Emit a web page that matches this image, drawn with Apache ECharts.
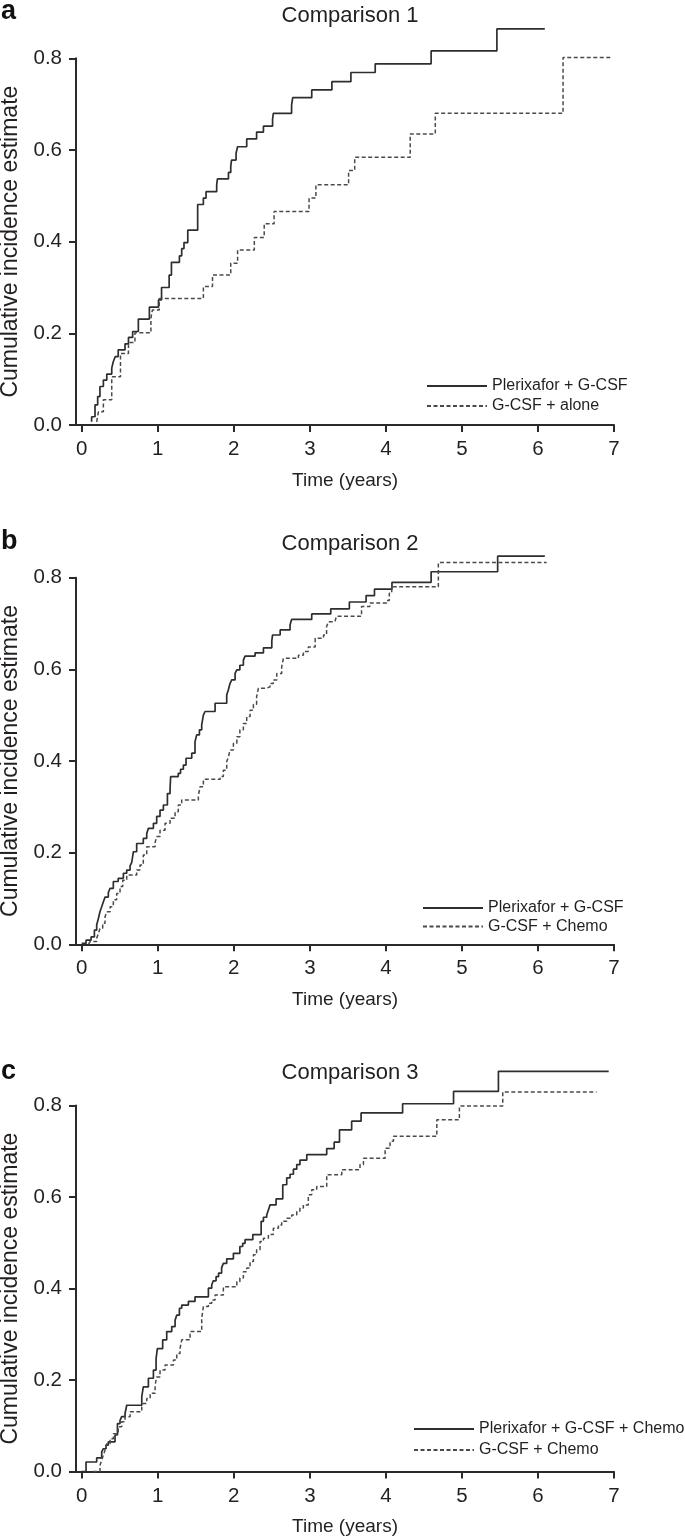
<!DOCTYPE html>
<html><head><meta charset="utf-8">
<script src="https://cdn.jsdelivr.net/npm/echarts@6/dist/echarts.min.js"></script>
<style>html,body{margin:0;padding:0;background:#fff}#c{width:685px;height:1536px}</style>
</head><body><div id="c"></div>
<script>
// ---- data ----
const xTicks = [0, 1, 2, 3, 4, 5, 6, 7];
const yTicks = [0, 0.2, 0.4, 0.6, 0.8];
const panelLetters = ['a', 'b', 'c'];
const panelTitles = ['Comparison 1', 'Comparison 2', 'Comparison 3'];
const seriesNames = [
  ['Plerixafor + G-CSF', 'G-CSF + alone'],
  ['Plerixafor + G-CSF', 'G-CSF + Chemo'],
  ['Plerixafor + G-CSF + Chemo', 'G-CSF + Chemo']
];
const xAxisName = 'Time (years)';
const yAxisName = 'Cumulative incidence estimate';

// [time (years), cumulative incidence]
const cmp1Plerixafor = [[0.13,0.007],[0.131,0.018],[0.175,0.044],[0.21,0.062],[0.24,0.084],[0.285,0.098],[0.33,0.111],[0.395,0.124],[0.415,0.138],[0.44,0.149],[0.48,0.164],[0.57,0.177],[0.615,0.191],[0.67,0.204],[0.745,0.231],[0.89,0.257],[1.01,0.273],[1.05,0.3],[1.15,0.327],[1.18,0.355],[1.285,0.369],[1.315,0.385],[1.345,0.398],[1.395,0.425],[1.525,0.481],[1.6,0.495],[1.635,0.509],[1.775,0.524],[1.785,0.537],[1.93,0.551],[1.96,0.564],[1.97,0.578],[2.03,0.593],[2.05,0.607],[2.17,0.624],[2.3,0.639],[2.39,0.652],[2.51,0.667],[2.52,0.68],[2.76,0.698],[2.775,0.714],[3.025,0.731],[3.29,0.749],[3.54,0.769],[3.86,0.788],[4.595,0.816],[5.46,0.864],[6.09,0.864]];
const cmp1GcsfAlone = [[0.197,0.007],[0.22,0.029],[0.285,0.055],[0.395,0.105],[0.51,0.156],[0.615,0.18],[0.70,0.201],[0.91,0.233],[0.93,0.251],[1.02,0.276],[1.60,0.302],[1.72,0.327],[1.96,0.353],[2.05,0.382],[2.27,0.409],[2.40,0.439],[2.53,0.466],[2.99,0.495],[3.08,0.524],[3.51,0.555],[3.59,0.584],[4.32,0.635],[4.65,0.68],[6.33,0.802],[6.96,0.802]];
const cmp2Plerixafor = [[0.0,0.002],[0.057,0.009],[0.123,0.016],[0.167,0.031],[0.197,0.042],[0.22,0.057],[0.24,0.071],[0.263,0.082],[0.285,0.093],[0.307,0.103],[0.35,0.113],[0.373,0.122],[0.416,0.137],[0.48,0.144],[0.548,0.155],[0.592,0.162],[0.636,0.171],[0.658,0.179],[0.68,0.202],[0.723,0.22],[0.81,0.231],[0.855,0.242],[0.877,0.253],[0.943,0.264],[0.986,0.279],[1.03,0.293],[1.074,0.304],[1.127,0.329],[1.162,0.34],[1.17,0.366],[1.27,0.373],[1.30,0.382],[1.337,0.391],[1.372,0.406],[1.447,0.417],[1.49,0.442],[1.512,0.457],[1.548,0.468],[1.578,0.479],[1.60,0.50],[1.622,0.508],[1.754,0.526],[1.907,0.544],[1.93,0.556],[1.95,0.569],[1.973,0.577],[2.017,0.591],[2.04,0.599],[2.08,0.609],[2.126,0.62],[2.148,0.629],[2.28,0.636],[2.39,0.647],[2.50,0.662],[2.51,0.675],[2.61,0.686],[2.74,0.697],[2.76,0.709],[3.025,0.721],[3.275,0.732],[3.52,0.747],[3.74,0.761],[3.85,0.775],[4.08,0.79],[4.595,0.813],[5.47,0.847],[6.09,0.847]];
const cmp2GcsfChemo = [[0.088,0.0],[0.11,0.006],[0.197,0.013],[0.22,0.024],[0.241,0.035],[0.276,0.046],[0.307,0.06],[0.33,0.071],[0.373,0.082],[0.416,0.097],[0.46,0.111],[0.504,0.126],[0.54,0.14],[0.592,0.151],[0.723,0.162],[0.767,0.173],[0.81,0.195],[0.855,0.213],[0.965,0.222],[0.986,0.235],[1.03,0.249],[1.096,0.264],[1.162,0.275],[1.228,0.289],[1.27,0.304],[1.315,0.315],[1.534,0.324],[1.556,0.344],[1.60,0.36],[1.82,0.366],[1.863,0.38],[1.907,0.399],[1.93,0.409],[1.95,0.424],[1.995,0.439],[2.04,0.453],[2.08,0.468],[2.126,0.482],[2.17,0.497],[2.214,0.511],[2.258,0.524],[2.30,0.54],[2.324,0.559],[2.433,0.562],[2.477,0.569],[2.52,0.577],[2.565,0.591],[2.63,0.606],[2.652,0.624],[2.85,0.631],[2.915,0.639],[2.98,0.649],[3.07,0.668],[3.18,0.675],[3.22,0.693],[3.245,0.704],[3.33,0.708],[3.35,0.716],[3.68,0.737],[3.79,0.745],[4.01,0.75],[4.045,0.766],[4.077,0.78],[4.69,0.833],[6.115,0.833]];
const cmp3PlerixaforChemo = [[0.0,0.0],[0.057,0.021],[0.197,0.03],[0.263,0.043],[0.285,0.05],[0.32,0.058],[0.35,0.065],[0.438,0.08],[0.47,0.105],[0.504,0.112],[0.526,0.12],[0.57,0.127],[0.592,0.145],[0.79,0.164],[0.81,0.185],[0.877,0.204],[0.943,0.222],[0.978,0.247],[0.995,0.269],[1.065,0.288],[1.118,0.306],[1.184,0.317],[1.228,0.331],[1.25,0.342],[1.285,0.357],[1.315,0.364],[1.403,0.372],[1.49,0.382],[1.666,0.401],[1.71,0.408],[1.73,0.417],[1.767,0.426],[1.80,0.434],[1.84,0.446],[1.863,0.455],[1.907,0.465],[1.995,0.477],[2.08,0.492],[2.117,0.499],[2.148,0.507],[2.25,0.518],[2.36,0.547],[2.39,0.556],[2.433,0.561],[2.455,0.572],[2.477,0.583],[2.556,0.596],[2.644,0.627],[2.696,0.642],[2.74,0.65],[2.784,0.661],[2.828,0.671],[2.87,0.681],[2.96,0.693],[3.222,0.706],[3.32,0.72],[3.39,0.747],[3.55,0.766],[3.674,0.784],[4.22,0.804],[4.89,0.831],[5.48,0.875],[6.93,0.875]];
const cmp3GcsfChemo = [[0.15,0.0],[0.241,0.014],[0.263,0.025],[0.285,0.036],[0.307,0.047],[0.33,0.061],[0.373,0.072],[0.416,0.083],[0.48,0.098],[0.526,0.109],[0.57,0.12],[0.636,0.131],[0.79,0.142],[0.81,0.149],[0.855,0.16],[0.90,0.171],[0.965,0.189],[0.986,0.207],[1.03,0.222],[1.096,0.233],[1.206,0.244],[1.25,0.258],[1.293,0.269],[1.315,0.288],[1.425,0.306],[1.578,0.335],[1.60,0.361],[1.666,0.368],[1.71,0.375],[1.754,0.386],[1.863,0.404],[2.04,0.415],[2.08,0.423],[2.126,0.437],[2.17,0.445],[2.214,0.459],[2.258,0.474],[2.30,0.485],[2.345,0.503],[2.39,0.51],[2.455,0.518],[2.52,0.532],[2.587,0.539],[2.63,0.547],[2.696,0.554],[2.762,0.561],[2.828,0.569],[2.87,0.576],[2.915,0.583],[2.98,0.605],[3.025,0.616],[3.09,0.623],[3.222,0.649],[3.42,0.66],[3.66,0.671],[3.705,0.685],[3.99,0.707],[4.055,0.722],[4.10,0.733],[4.67,0.769],[4.967,0.799],[5.537,0.83],[6.77,0.83]];

const panelData = [
  [cmp1Plerixafor, cmp1GcsfAlone],
  [cmp2Plerixafor, cmp2GcsfChemo],
  [cmp3PlerixaforChemo, cmp3GcsfChemo]
];

// ---- layout / style ----
const FONT = '"Liberation Sans", Arial, Helvetica, sans-serif';
const INK = '#231f20';
const layout = [
  { top: 58.3, bottom: 425, titleTop: 0, letterTop: -2, legendTop: 378, legendLeft: 426, legendGap: 4 },
  { top: 577.7, bottom: 944.3, titleTop: 528, letterTop: 528, legendTop: 900, legendLeft: 422, legendGap: 2.5 },
  { top: 1105.6, bottom: 1471.6, titleTop: 1057, letterTop: 1058, legendTop: 1421, legendLeft: 413, legendGap: 5 }
];
const GRID_LEFT = 76, GRID_RIGHT = 614, X_MIN = -0.075;

const grid = [], xAxis = [], yAxis = [], series = [], title = [], legend = [], graphic = [];
layout.forEach((p, i) => {
  grid.push({ left: GRID_LEFT, width: GRID_RIGHT - GRID_LEFT, top: p.top, height: p.bottom - p.top,
              containLabel: false, outerBoundsMode: 'none' });
  xAxis.push({
    type: 'value', gridIndex: i, min: X_MIN, max: 7,
    name: xAxisName, nameLocation: 'middle', nameGap: 46,
    nameTextStyle: { fontFamily: FONT, fontSize: 19, color: INK },
    axisLine: { show: true, onZero: false, lineStyle: { color: '#2a2a2a', width: 2 } },
    axisTick: { show: true, customValues: xTicks, length: 7, lineStyle: { color: '#2a2a2a', width: 2 } },
    axisLabel: { show: true, customValues: xTicks, margin: 14, fontFamily: FONT, fontSize: 20.5, color: INK, formatter: v => String(Math.round(v)) },
    splitLine: { show: false }
  });
  yAxis.push({
    type: 'value', gridIndex: i, min: 0, max: 0.8,
    name: yAxisName, nameLocation: 'middle', nameGap: 53,
    nameTextStyle: { fontFamily: FONT, fontSize: 23, color: INK },
    axisLine: { show: true, onZero: false, lineStyle: { color: '#2a2a2a', width: 2 } },
    axisTick: { show: true, customValues: yTicks, length: 7, lineStyle: { color: '#2a2a2a', width: 2 } },
    axisLabel: { show: true, customValues: yTicks, margin: 14, fontFamily: FONT, fontSize: 20.5, color: INK, formatter: v => v.toFixed(1) },
    splitLine: { show: false }
  });
  panelData[i].forEach((d, k) => {
    series.push({
      type: 'line', name: seriesNames[i][k], xAxisIndex: i, yAxisIndex: i,
      data: d, step: 'end', symbol: 'none', showSymbol: false, clip: false,
      lineStyle: k === 0 ? { color: '#2e2e2e', width: 1.7, type: 'solid' }
                         : { color: '#4a4a4a', width: 1.5, type: [4, 2.5] },
      itemStyle: { color: k === 0 ? '#2e2e2e' : '#4a4a4a' },
      animation: false
    });
  });
  title.push({
    text: panelTitles[i], left: 345, top: p.titleTop, textAlign: 'center',
    textStyle: { fontFamily: FONT, fontSize: 22, fontWeight: 'normal', color: INK }
  });
  legend.push({
    data: seriesNames[i], orient: 'vertical', left: p.legendLeft, top: p.legendTop,
    itemWidth: 60, itemHeight: 16, itemGap: p.legendGap, padding: 0,
    selectedMode: false,
    itemStyle: { opacity: 0 },
    textStyle: { fontFamily: FONT, fontSize: 16, color: INK }
  });
  graphic.push({
    type: 'text', left: 1, top: p.letterTop,
    style: { text: panelLetters[i], font: 'bold 27px ' + FONT, fill: '#111' }
  });
});

const chart = echarts.init(document.getElementById('c'), null, { renderer: 'canvas' });
chart.setOption({ animation: false, backgroundColor: '#fff', grid, xAxis, yAxis, series, title, legend, graphic });
</script></body></html>
